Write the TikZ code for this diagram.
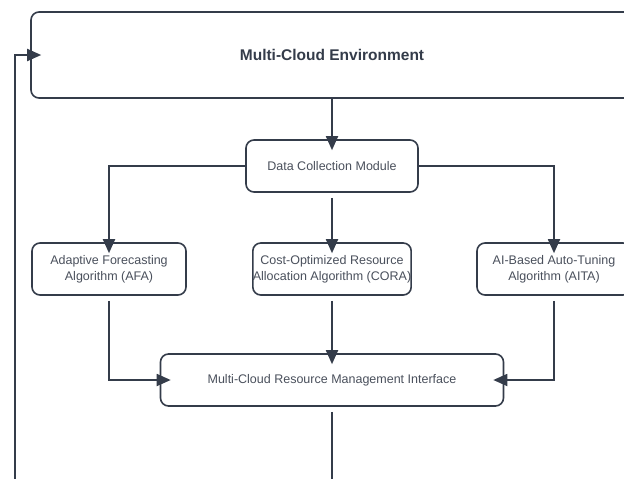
\documentclass[tikz,border=0pt]{standalone}
\usepackage{fontspec}
\setmainfont{Liberation Sans}
\usepackage{xcolor}
\usetikzlibrary{arrows.meta,positioning}

\definecolor{edgeC}{HTML}{343C4A}
\definecolor{textC}{HTML}{4A505C}

\begin{document}
\begin{tikzpicture}[
  x=1pt, y=-1pt,
  font=\fontsize{12.5}{16}\selectfont,
  >={Triangle[length=14pt, width=12pt]},
  blk/.style={draw=edgeC, line width=1.6pt, rounded corners=8pt, fill=white,
              align=center, inner sep=0pt, text=textC,
              minimum width=154pt, minimum height=52pt},
  env/.style={blk, minimum width=602pt, minimum height=86pt,
              font=\fontsize{15.5}{18}\selectfont\bfseries, text=edgeC},
  flow/.style={->, line width=1.8pt, draw=edgeC, shorten >=-11pt},
  gap/.style={shorten <=5pt}
]
\useasboundingbox (0,0) rectangle (624,479);
\clip (0,0) rectangle (624,479);

\node[env] (mce)  at (332,55)    {Multi-Cloud Environment};
\node[blk, minimum width=172pt] (dcm) at (332,166) {Data Collection Module};
\node[blk]  (afa)  at (109,269)   {Adaptive Forecasting\\Algorithm (AFA)};
\node[blk]  (cora) at (332,269)   {Cost-Optimized Resource\\Allocation Algorithm (CORA)};
\node[blk]  (aita) at (554,269)   {AI-Based Auto-Tuning\\Algorithm (AITA)};
\node[blk, minimum width=343pt] (mrmi) at (332,380) {Multi-Cloud Resource Management Interface};
\coordinate (out)  at (332,500);
\coordinate (back) at (15,500);

\draw[flow] (mce) -- (dcm);
\draw[flow] (dcm) -| (afa); \draw[flow, gap] (dcm) -- (cora);
\draw[flow] (dcm) -| (aita);
\draw[flow, gap] (afa) |- (mrmi); \draw[flow, gap] (cora) -- (mrmi);
\draw[flow, gap] (aita) |- (mrmi);
\draw[flow, gap, -] (mrmi) -- (out);
\draw[flow] (back) |- (mce);
\end{tikzpicture}
\end{document}
